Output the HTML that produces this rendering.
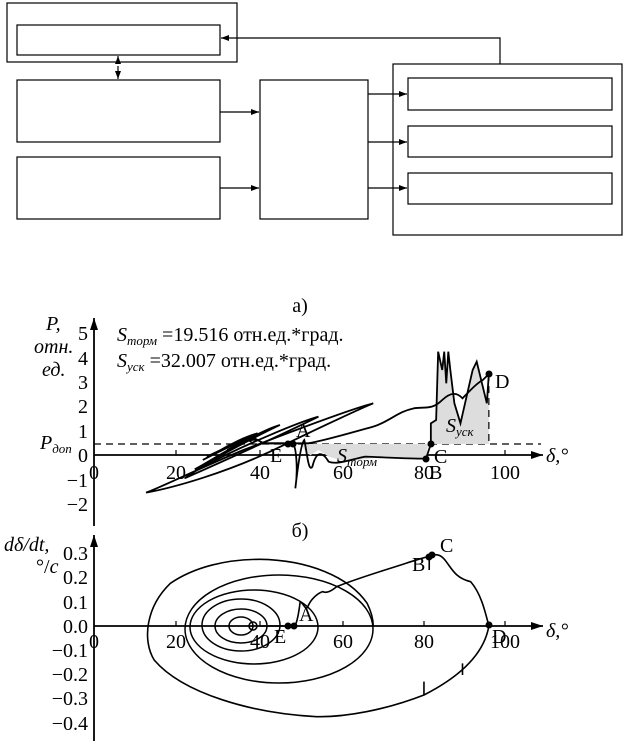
<!DOCTYPE html>
<html><head><meta charset="utf-8"><style>
html,body{margin:0;padding:0;background:#fff;}
svg{display:block;font-family:"Liberation Serif",serif;}
.z path,.z ellipse,.z polyline,.z line{vector-effect:non-scaling-stroke;}
</style></head><body>
<svg width="628" height="748" viewBox="0 0 628 748" xmlns="http://www.w3.org/2000/svg">
<defs>
<marker id="ar" markerWidth="8" markerHeight="6" refX="8" refY="3" orient="auto" markerUnits="userSpaceOnUse"><path d="M0,0 L8,3 L0,6 Z" fill="#000"/></marker>
<marker id="ar2" markerWidth="12" markerHeight="8" refX="12" refY="4" orient="auto" markerUnits="userSpaceOnUse"><path d="M0,0 L12,4 L0,8 Z" fill="#000"/></marker>
</defs>
<g fill="none" stroke="#000" stroke-width="1.2">
<rect x="7" y="3" width="230" height="59"/>
<rect x="17" y="25" width="203" height="30"/>
<rect x="17" y="80" width="203" height="62"/>
<rect x="17" y="157" width="203" height="62"/>
<rect x="260" y="80" width="108" height="139"/>
<rect x="393" y="64" width="229" height="171"/>
<rect x="408" y="78" width="204" height="32"/>
<rect x="408" y="126" width="204" height="31"/>
<rect x="408" y="173" width="204" height="31"/>
<polyline points="500,64 500,38 221,38" marker-end="url(#ar)"/>
<line x1="118" y1="62" x2="118" y2="56" marker-end="url(#ar)"/>
<line x1="118" y1="66" x2="118" y2="79" marker-end="url(#ar)"/>
<line x1="220" y1="112" x2="259" y2="112" marker-end="url(#ar)"/>
<line x1="220" y1="188" x2="259" y2="188" marker-end="url(#ar)"/>
<line x1="368" y1="94" x2="407" y2="94" marker-end="url(#ar)"/>
<line x1="368" y1="142" x2="407" y2="142" marker-end="url(#ar)"/>
<line x1="368" y1="188" x2="407" y2="188" marker-end="url(#ar)"/>
</g>

<!-- plot a -->
<g font-size="20">
<text x="300" y="312" text-anchor="middle">а)</text>
<text x="46" y="330" font-style="italic">P,</text>
<text x="34" y="353" font-style="italic">отн.</text>
<text x="42" y="376" font-style="italic">ед.</text>
<text x="117" y="341"><tspan font-style="italic">S</tspan><tspan font-size="13" dy="4" font-style="italic">торм</tspan><tspan dy="-4"> =19.516 отн.ед.*град.</tspan></text>
<text x="117" y="367"><tspan font-style="italic">S</tspan><tspan font-size="13" dy="4" font-style="italic">уск</tspan><tspan dy="-4"> =32.007 отн.ед.*град.</tspan></text>
<g text-anchor="end">
<text x="88" y="340">5</text><text x="88" y="365">4</text><text x="88" y="389">3</text><text x="88" y="413">2</text><text x="88" y="438">1</text><text x="88" y="462">0</text><text x="88" y="487">−1</text><text x="88" y="511">−2</text>
</g>
<text x="40" y="449" font-style="italic">P<tspan font-size="13" dy="4">доп</tspan></text>
<g text-anchor="middle">
<text x="94" y="479">0</text><text x="176" y="479">20</text><text x="260" y="479">40</text><text x="343" y="479">60</text><text x="424" y="479">80</text><text x="505" y="479">100</text>
</g>
<text x="546" y="462" font-style="italic">δ,°</text>
</g>
<g stroke="#000" stroke-width="1.8" fill="none">
<line x1="94" y1="526" x2="94" y2="318" marker-end="url(#ar2)"/>
<line x1="94" y1="455" x2="543" y2="455" marker-end="url(#ar2)"/>
<line x1="94" y1="444" x2="541" y2="444" stroke-dasharray="7,5" stroke-width="1.2"/>
<g stroke-width="1.2"><line x1="176" y1="455" x2="176" y2="450"/><line x1="260" y1="455" x2="260" y2="450"/><line x1="343" y1="455" x2="343" y2="450"/><line x1="424" y1="455" x2="424" y2="450"/><line x1="505" y1="455" x2="505" y2="450"/></g>
</g>
<g class="z" transform="translate(0,270) scale(0.4057,0.3333)" stroke="#000" stroke-width="1.8" fill="none">
<path d="M745,522 L1055,522 L1050,565 1000,565 950,560 850,575 810,560 785,540 765,556 750,540Z" fill="#ddd" stroke="none"/>
<path d="M1062,522 L1062,460 1075,450 1080,245 1090,300 1095,245 1100,340 1105,245 1110,300 1120,400 1135,460 1150,380 1165,300 1175,275 1190,350 1200,400 1205,310 L1205,522Z" fill="#ddd" stroke="none"/>
<path d="M360,668 C420,655 560,610 700,525 C800,465 900,410 920,400 C880,412 760,465 600,540 C500,590 400,650 360,668Z"/>
<path d="M455,625 C520,590 650,520 785,440 C740,455 600,525 500,590 C470,612 455,625 455,625Z"/>
<path d="M480,598 C540,560 620,505 690,465 C660,475 590,520 520,570 C495,588 480,598 480,598Z"/>
<path d="M500,570 C540,545 600,510 635,490 C610,498 570,520 530,550Z"/>
<path d="M510,560 C560,530 600,510 630,500 M520,555 C570,525 610,505 640,510 M540,545 L600,505 620,515 M560,540 L620,500 650,520 700,520"/>
<path d="M722,522 C730,530 735,600 728,655 C735,580 742,520 750,510 C756,540 760,610 770,590 C780,540 795,545 810,575 C830,585 860,570 900,560 C950,562 1000,566 1050,566 L1062,522 L1062,460 1075,450 1080,245 1090,300 1095,245 1100,340 1105,245 1110,300 1120,400 1135,460 1150,380 1165,300 1175,275 1190,350 1200,400 1205,310"/>
<path d="M650,520 L760,520 C800,512 860,490 920,470 C960,455 980,425 1020,415 C1050,410 1065,420 1090,390 C1110,368 1125,365 1140,385 C1160,360 1175,340 1190,330 L1205,312"/>
<line x1="1205" y1="312" x2="1205" y2="520" stroke-dasharray="7,5" stroke-width="1.2"/>
</g>
<g fill="#000">
<circle cx="288" cy="444" r="3.5"/><circle cx="293" cy="444" r="3.5"/>
<circle cx="426" cy="459" r="3.5"/><circle cx="431" cy="444" r="3.5"/><circle cx="489" cy="374" r="3.5"/>
</g>
<g font-size="20">
<text x="296" y="437">A</text><text x="270" y="462">E</text><text x="434" y="463">C</text><text x="429" y="479">B</text><text x="495" y="388">D</text>
<text x="446" y="432" font-style="italic">S<tspan font-size="13" dy="4">уск</tspan></text>
<text x="337" y="462" font-style="italic">S<tspan font-size="13" dy="4">торм</tspan></text>
</g>

<!-- plot b -->
<g font-size="20">
<text x="300" y="537" text-anchor="middle">б)</text>
<text x="4" y="551" font-style="italic">dδ/dt,</text>
<text x="36" y="573">°/<tspan font-style="italic">c</tspan></text>
<g text-anchor="end">
<text x="88" y="560">0.3</text><text x="88" y="584">0.2</text><text x="88" y="609">0.1</text><text x="88" y="633">0.0</text><text x="88" y="657">−0.1</text><text x="88" y="681">−0.2</text><text x="88" y="705">−0.3</text><text x="88" y="730">−0.4</text>
</g>
<g text-anchor="middle">
<text x="94" y="648">0</text><text x="176" y="648">20</text><text x="260" y="648">40</text><text x="343" y="648">60</text><text x="424" y="648">80</text><text x="505" y="648">100</text>
</g>
<text x="546" y="637" font-style="italic">δ,°</text>
<text x="274" y="643">E</text><text x="299" y="621">A</text><text x="412" y="571">B</text><text x="440" y="552">C</text><text x="492" y="643">D</text>
</g>
<g stroke="#000" stroke-width="1.8" fill="none">
<line x1="94" y1="741" x2="94" y2="535" marker-end="url(#ar2)"/>
<line x1="94" y1="626" x2="543" y2="626" marker-end="url(#ar2)"/>
<g stroke-width="1.2"><line x1="176" y1="626" x2="176" y2="621"/><line x1="260" y1="626" x2="260" y2="621"/><line x1="343" y1="626" x2="343" y2="621"/><line x1="424" y1="626" x2="424" y2="621"/><line x1="505" y1="626" x2="505" y2="621"/></g>
<g stroke-width="1.5">
<ellipse cx="279" cy="629" rx="94" ry="54"/>
<ellipse cx="254" cy="627" rx="64" ry="37"/>
<ellipse cx="241" cy="625" rx="39" ry="26"/>
<ellipse cx="241" cy="626" rx="26" ry="17"/>
<ellipse cx="241" cy="626" rx="12" ry="9"/>
<circle cx="253" cy="626" r="4"/>
</g>
</g>
<g class="z" transform="translate(0,520) scale(0.4057,0.3333)" stroke="#000" stroke-width="1.6" fill="none">
<path d="M1205,318 C1195,390 1150,460 1045,525 C950,570 850,592 780,590 C620,580 450,520 380,420 C350,360 360,260 420,190 C480,140 560,118 640,118 C760,120 860,170 905,250 C915,275 920,300 920,318"/>
<path d="M640,318 L712,318 L727,318 C735,300 738,260 740,245 C748,250 752,270 758,262 C765,240 780,222 795,215 C805,220 815,215 830,200 C880,175 950,150 1000,130 C1030,118 1050,112 1063,106 C1080,100 1090,108 1100,125 C1115,150 1125,175 1160,185 C1185,220 1195,270 1205,318"/>
<path d="M1058,112 L1058,150"/>
<path d="M1045,525 L1045,485 M1140,465 L1140,430"/>
</g>
<g fill="#000">
<circle cx="288" cy="626" r="3.5"/><circle cx="294" cy="626" r="3.5"/>
<circle cx="429" cy="557" r="3.5"/><circle cx="432" cy="555" r="3.5"/><circle cx="489" cy="625" r="3.5"/>
</g>
</svg>
</body></html>
